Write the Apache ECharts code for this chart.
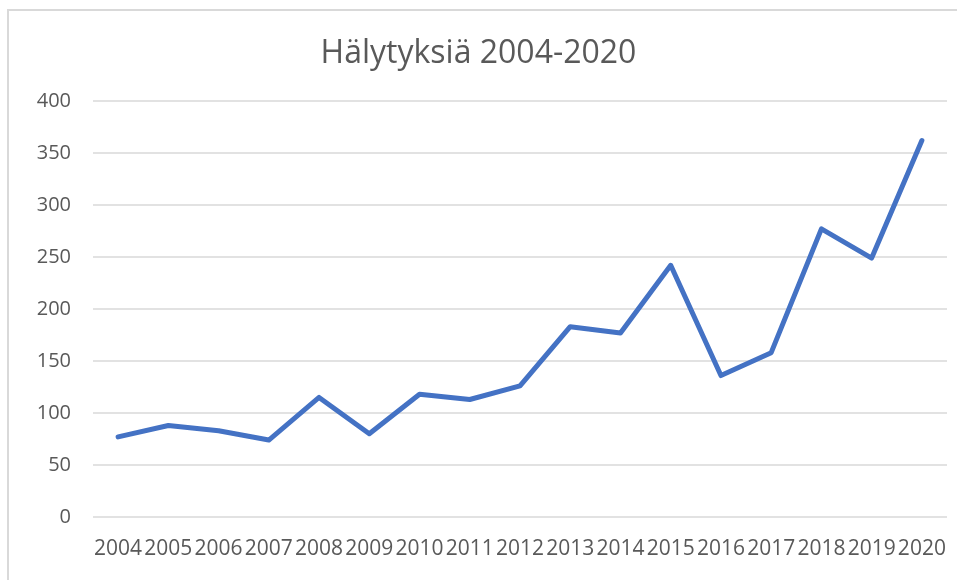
<!DOCTYPE html>
<html>
<head>
<meta charset="utf-8">
<script src="https://cdn.jsdelivr.net/npm/echarts@6/dist/echarts.min.js"></script>
<style>
  html, body { margin: 0; padding: 0; background: #fff; overflow: hidden; }
  #frame { position: absolute; left: 7px; top: 9px; width: 960px; height: 571px; border-left: 2px solid #d9d9d9; border-top: 2px solid #d9d9d9; box-sizing: border-box; }
  #chart { position: absolute; left: 0; top: 0; width: 957px; height: 583px; }
</style>
</head>
<body>
<div id="frame"></div>
<div id="chart"></div>
<script>
const years = ['2004','2005','2006','2007','2008','2009','2010','2011','2012','2013','2014','2015','2016','2017','2018','2019','2020'];
const alarms = [77, 88, 83, 74, 115, 80, 118, 113, 126, 183, 177, 242, 136, 158, 277, 249, 362];
const yTicks = { min: 0, max: 400, step: 50 };

const chart = echarts.init(document.getElementById('chart'));
const textColor = '#595959';
const font = 'Open Sans';

chart.setOption({
  animation: false,
  title: {
    text: 'Hälytyksiä 2004-2020',
    left: 'center',
    top: 38,
    padding: [0, 0, 0, 19],
    textStyle: { fontFamily: font, fontSize: 32, fontWeight: 'normal', color: textColor }
  },
  grid: { left: 93, right: 10, top: 101, bottom: 66 },
  xAxis: {
    type: 'category',
    data: years,
    boundaryGap: true,
    axisLine: { show: false },
    axisTick: { show: false },
    axisLabel: {
      interval: 0,
      hideOverlap: false,
      margin: 22,
      fontFamily: font,
      fontSize: 21,
      color: textColor
    }
  },
  yAxis: {
    type: 'value',
    min: yTicks.min,
    max: yTicks.max,
    interval: yTicks.step,
    axisLine: { show: false },
    axisTick: { show: false },
    axisLabel: { margin: 22, fontFamily: font, fontSize: 20, color: textColor },
    splitLine: { lineStyle: { color: '#d9d9d9', width: 1.5 } }
  },
  series: [{
    type: 'line',
    data: alarms,
    showSymbol: false,
    symbol: 'none',
    lineStyle: { color: '#4472C4', width: 5, join: 'round', cap: 'round' }
  }]
});
</script>
</body>
</html>
